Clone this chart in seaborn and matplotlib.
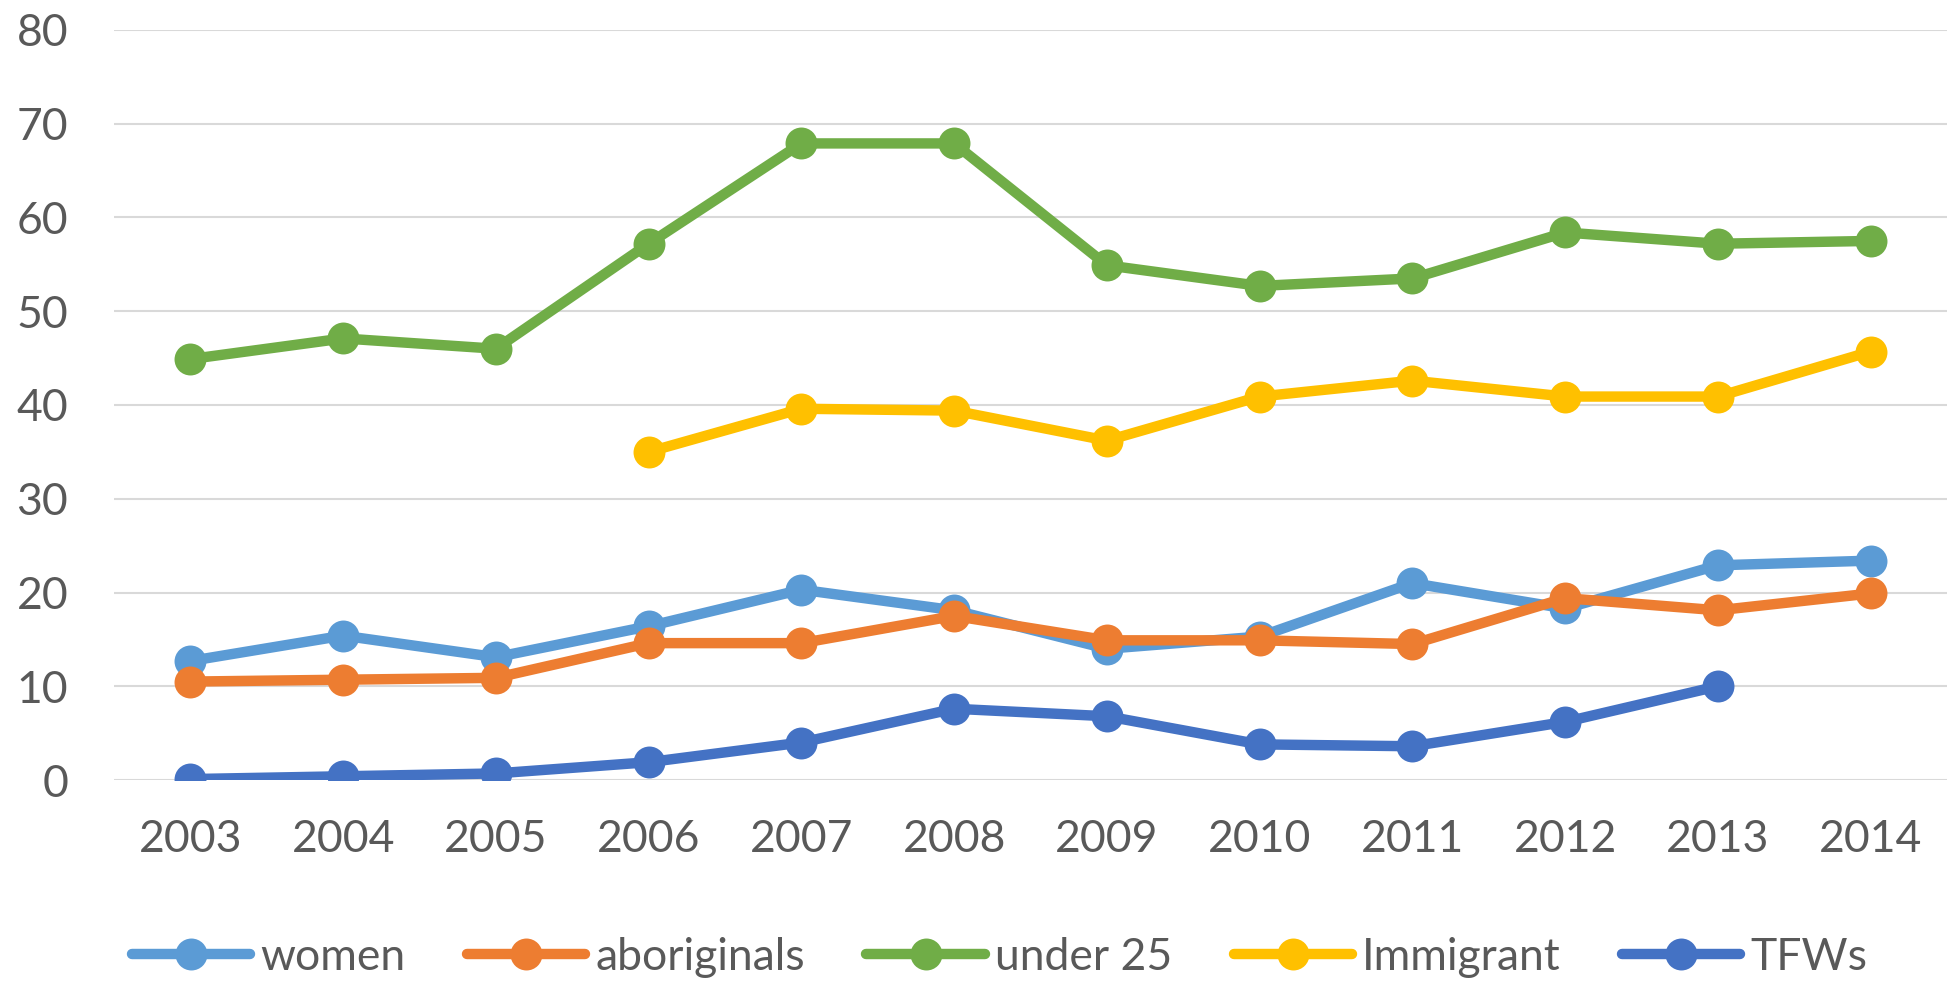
import numpy as np
import pandas as pd
import matplotlib
matplotlib.use('Agg')
import matplotlib.pyplot as plt
import seaborn as sns

### Dados
anos = [2003, 2004, 2005, 2006, 2007, 2008, 2009, 2010, 2011, 2012, 2013, 2014]
women = [12.7, 15.4, 13.1, 16.4, 20.3, 18.1, 14.0, 15.3, 21.0, 18.3, 22.9, 23.4]
aboriginals = [10.5, 10.7, 10.9, 14.6, 14.6, 17.5, 14.9, 14.9, 14.5, 19.4, 18.1, 19.9]
under_25 = [44.9, 47.1, 46.0, 57.2, 67.9, 67.9, 54.9, 52.7, 53.5, 58.4, 57.2, 57.5]
immigrant = [np.nan, np.nan, np.nan, 35.0, 39.6, 39.4, 36.2, 40.9, 42.6, 40.9, 40.9, 45.7]
tfws = [0.1, 0.4, 0.7, 1.9, 4.0, 7.6, 6.8, 3.8, 3.6, 6.2, 10.0, np.nan]

series = ['women', 'aboriginals', 'under 25', 'Immigrant', 'TFWs']
cores = ['#5B9BD5', '#ED7D31', '#70AD47', '#FFC000', '#4472C4']

df = pd.DataFrame({'Ano': anos, 'women': women, 'aboriginals': aboriginals,
                   'under 25': under_25, 'Immigrant': immigrant, 'TFWs': tfws})
df_long = df.melt(id_vars='Ano', var_name='Grupo', value_name='Valor').dropna()

### Plot
sns.set_style('white')
plt.rcParams['font.family'] = ['Lato', 'DejaVu Sans']
cinza = '#595959'

fig = plt.figure(figsize=(19.49, 9.83), dpi=100)
ax = fig.add_axes([0.0585, 0.2065, 0.9405, 0.763])

sns.lineplot(data=df_long, x='Ano', y='Valor', hue='Grupo', hue_order=series,
             palette=cores, marker='o', markersize=23, markeredgewidth=0,
             linewidth=7.5, ax=ax)

ax.set_xlim(2002.5, 2014.5)
ax.set_ylim(0, 80)
ax.set_xticks(anos)
ax.set_xticklabels([str(a) for a in anos])
ax.set_yticks(range(0, 81, 10))
ax.set_xlabel('')
ax.set_ylabel('')
ax.grid(axis='y', color='#D9D9D9', linewidth=1.5, zorder=0)
ax.set_axisbelow(True)
for s in ax.spines.values():
    s.set_visible(False)
ax.tick_params(axis='both', length=0, labelsize=32, labelcolor=cinza)
ax.tick_params(axis='y', pad=33)
ax.tick_params(axis='x', pad=28)

# Legenda embaixo
handles, labels = ax.get_legend_handles_labels()
ax.legend_.remove()
fig.legend(handles, labels, loc='center', bbox_to_anchor=(0.513, 0.026), ncol=5,
           frameon=False, fontsize=32, labelcolor=cinza, handlelength=2.66,
           handletextpad=0.23, columnspacing=1.38, borderaxespad=0)

plt.savefig('out.png', dpi=100)
